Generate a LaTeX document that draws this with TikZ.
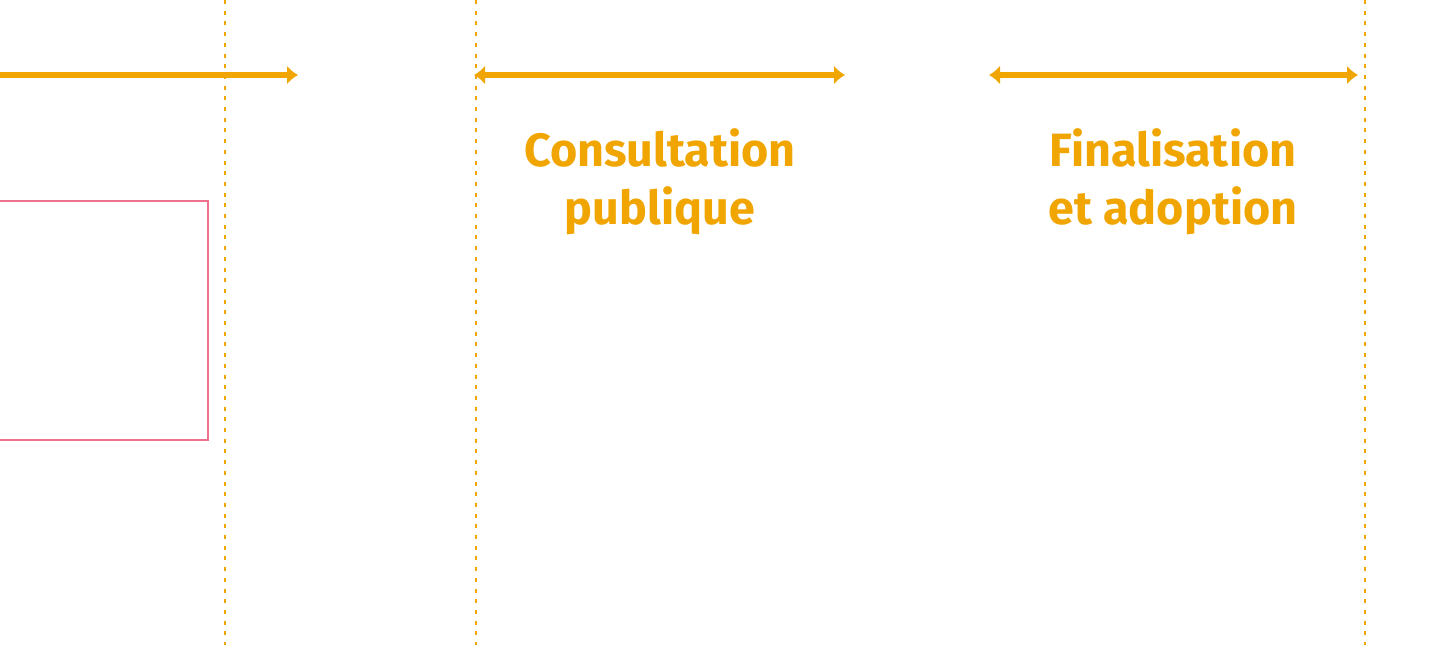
\documentclass[tikz,border=0pt]{standalone}
\usepackage{fontspec}
\setmainfont{Fira Sans}
\usetikzlibrary{arrows.meta}
\definecolor{gold}{HTML}{F0A500}
\definecolor{pinkb}{HTML}{F07090}
\tikzset{
  x=1pt,y=-1pt,
  sep/.style={gold,line width=2pt,dash pattern=on 4pt off 6.7pt},
  span/.style={gold,line width=5.5pt,arrows={-Latex[length=11pt,width=19pt]}},
  both/.style={gold,line width=5.5pt,arrows={Latex[length=11pt,width=19pt]-Latex[length=11pt,width=19pt]}},
  lbl/.style={gold,font=\fontsize{46.7}{58}\selectfont\bfseries,align=center,inner sep=0pt},
  frame/.style={draw=pinkb,line width=2pt}
}
\begin{document}
\begin{tikzpicture}
\useasboundingbox (0,0) rectangle (1437,648);
\coordinate (s1t) at (225,0); \coordinate (s1b) at (225,645);
\coordinate (s2t) at (476,0); \coordinate (s2b) at (476,645);
\coordinate (s3t) at (1365,0); \coordinate (s3b) at (1365,645);
\draw[sep] (s1t) -- (s1b);
\draw[sep] (s2t) -- (s2b);
\draw[sep] (s3t) -- (s3b);
\coordinate (a1s) at (-5,75); \coordinate (a1e) at (298,75);
\coordinate (a2s) at (474,75); \coordinate (a2e) at (845,75);
\coordinate (a3s) at (989,75); \coordinate (a3e) at (1358,75);
\draw[span] (a1s) -- (a1e);
\draw[both] (a2s) -- (a2e);
\draw[both] (a3s) -- (a3e);
\node[frame,minimum width=228pt,minimum height=239pt,inner sep=0pt] (box) at (94,320.5) {};
\node[lbl] (consult) at (660,182) {Consultation\\publique};
\node[lbl] (final) at (1173,182) {Finalisation\\et adoption};
\end{tikzpicture}
\end{document}
